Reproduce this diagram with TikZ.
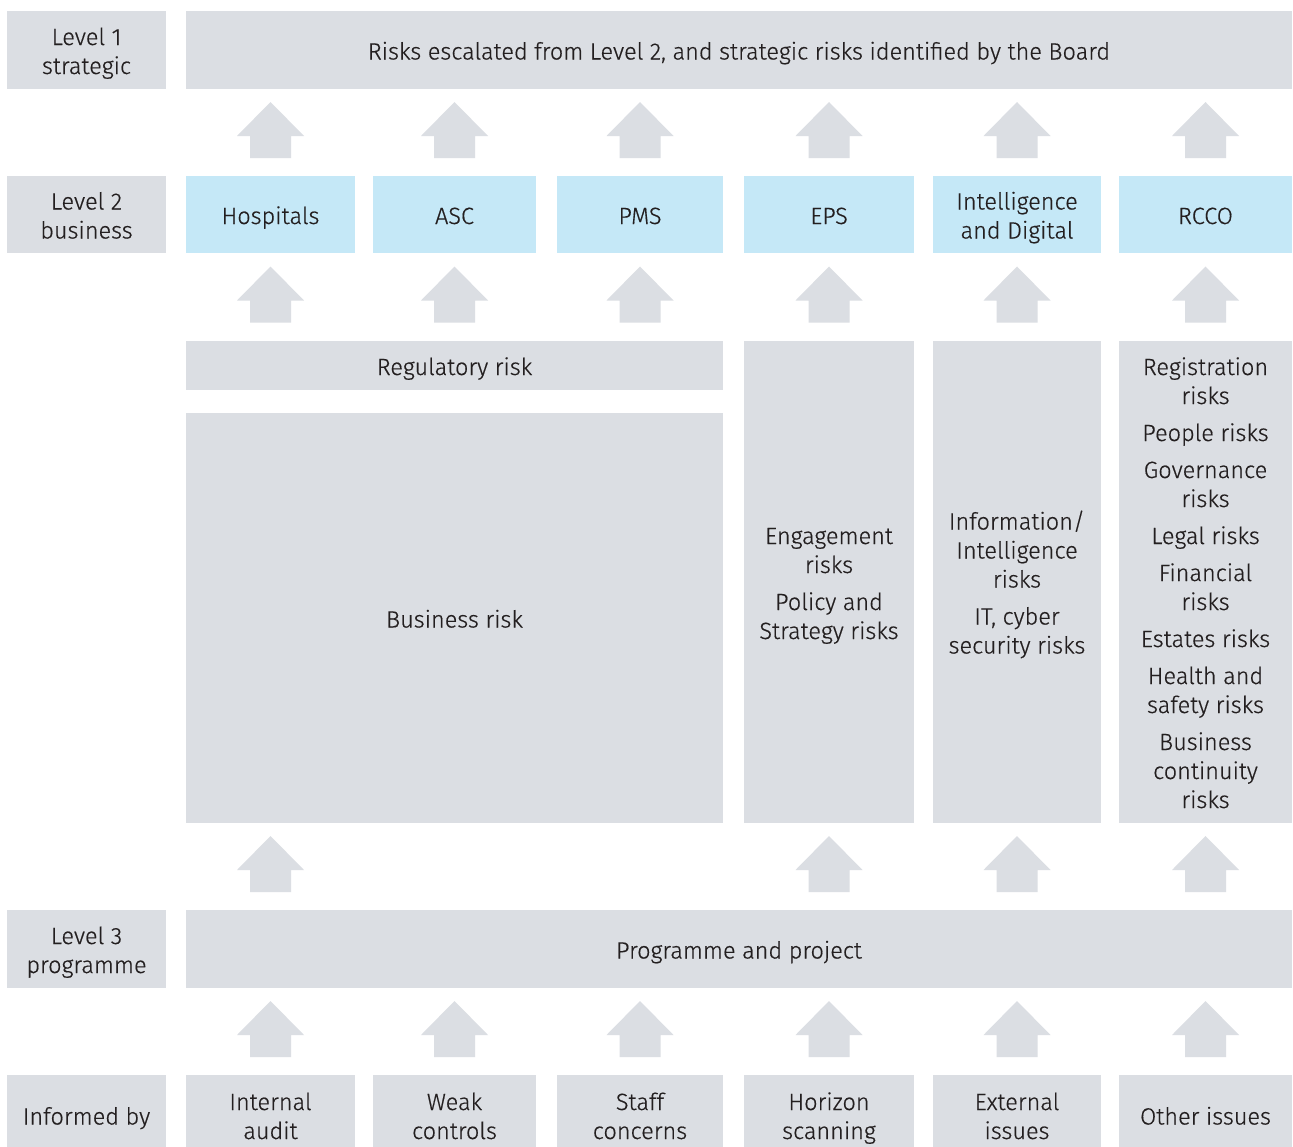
\documentclass[tikz,border=0pt]{standalone}
\usepackage{fontspec}
\setmainfont{Fira Sans}[UprightFont=* Light, UprightFeatures={FakeBold=0.5}]
\usetikzlibrary{calc}
\definecolor{panelgray}{RGB}{219,222,227}
\definecolor{unitblue}{RGB}{197,232,247}
\definecolor{inkdark}{RGB}{35,31,32}

% Fixed height for the first line of a multi-line label
\newcommand\firstline{\rule{0pt}{25pt}}

% Block arrow pointing up, centred on the column of #1, in the gap between #2 (below) and #3 (above)
\newcommand\riseArrow[3]{%
  \fill[panelgray] let \p1=(#1.center), \p2=(#2.north), \p3=(#3.south),
      \n1={(\y2+\y3)/2+2.5pt} in
    (\x1-20.5pt,\n1-28pt) -- (\x1+20.5pt,\n1-28pt) -- (\x1+20.5pt,\n1-6pt)
    -- (\x1+33.5pt,\n1-6pt) -- (\x1,\n1+28pt) -- (\x1-33.5pt,\n1-6pt)
    -- (\x1-20.5pt,\n1-6pt) -- cycle;}

\begin{document}
\begin{tikzpicture}[x=1pt,y=-1pt,
  box/.style={fill=panelgray, draw=none, inner sep=0pt, align=center,
    text=inkdark, font=\fontsize{23.5}{29}\selectfont,
    % fixed height and depth keep baselines even across boxes
    execute at begin node={\rule{0pt}{25pt}},
    execute at end node={\rule[-6pt]{0pt}{6pt}}},
  unit/.style={box, fill=unitblue}]
\clip (0,0) rectangle (1293,1146);
\fill[white] (0,0) rectangle (1293,1146);

% Level 1
\node[box, minimum width=159pt, minimum height=78pt] (l1) at (86.5,50) {\firstline Level 1\\strategic};
\node[box, minimum width=1106pt, minimum height=78pt] (top) at (739,50)
  {Risks escalated from Level 2, and strategic risks identified by the Board};

% Level 2 business units
\node[box, minimum width=159pt, minimum height=77pt] (l2) at (86.5,214.5) {\firstline Level 2\\business};
\node[unit, minimum width=169pt, minimum height=77pt] (hosp) at (270.5,214.5) {Hospitals};
\node[unit, minimum width=163pt, minimum height=77pt] (asc) at (454.5,214.5) {ASC};
\node[unit, minimum width=166pt, minimum height=77pt] (pms) at (640,214.5) {PMS};
\node[unit, minimum width=170pt, minimum height=77pt] (eps) at (829,214.5) {EPS};
\node[unit, minimum width=168pt, minimum height=77pt] (intel) at (1017,214.5) {\firstline Intelligence\\and Digital};
\node[unit, minimum width=173pt, minimum height=77pt] (rcco) at (1205.5,214.5) {RCCO};

% Risk categories
\node[box, minimum width=537pt, minimum height=49pt] (reg) at (454.5,365.5) {Regulatory risk};
\node[box, minimum width=537pt, minimum height=410pt] (bus) at (454.5,618) {Business risk};
\node[box, minimum width=170pt, minimum height=482pt] (epsc) at (829,582)
  {\firstline Engagement\\risks\\[8pt]Policy and\\Strategy risks};
\node[box, minimum width=168pt, minimum height=482pt] (intc) at (1017,582)
  {\firstline Information/\\Intelligence\\risks\\[8pt]IT, cyber\\security risks};
\node[box, minimum width=173pt, minimum height=482pt] (rcc) at (1205.5,582)
  {\firstline Registration\\risks\\[8pt]People risks\\[8pt]Governance\\risks\\[8pt]Legal risks\\[8pt]Financial\\risks\\[8pt]Estates risks\\[8pt]Health and\\safety risks\\[8pt]Business\\continuity\\risks};

% Level 3
\node[box, minimum width=159pt, minimum height=78pt] (l3) at (86.5,949) {\firstline Level 3\\programme};
\node[box, minimum width=1106pt, minimum height=78pt] (prog) at (739,949) {Programme and project};

% Sources
\node[box, minimum width=159pt, minimum height=80pt] (inf) at (86.5,1115) {Informed by};
\node[box, minimum width=169pt, minimum height=80pt] (s1) at (270.5,1115) {\firstline Internal\\audit};
\node[box, minimum width=163pt, minimum height=80pt] (s2) at (454.5,1115) {\firstline Weak\\controls};
\node[box, minimum width=166pt, minimum height=80pt] (s3) at (640,1115) {\firstline Staff\\concerns};
\node[box, minimum width=170pt, minimum height=80pt] (s4) at (829,1115) {\firstline Horizon\\scanning};
\node[box, minimum width=168pt, minimum height=80pt] (s5) at (1017,1115) {\firstline External\\issues};
\node[box, minimum width=173pt, minimum height=80pt] (s6) at (1205.5,1115) {Other issues};

% Arrows: business units -> Level 1
\riseArrow{hosp}{hosp}{top}
\riseArrow{asc}{asc}{top}
\riseArrow{pms}{pms}{top}
\riseArrow{eps}{eps}{top}
\riseArrow{intel}{intel}{top}
\riseArrow{rcco}{rcco}{top}

% Arrows: risk categories -> business units
\riseArrow{hosp}{reg}{hosp}
\riseArrow{asc}{reg}{asc}
\riseArrow{pms}{reg}{pms}
\riseArrow{eps}{epsc}{eps}
\riseArrow{intel}{intc}{intel}
\riseArrow{rcco}{rcc}{rcco}

% Arrows: programme -> risk categories
\riseArrow{hosp}{prog}{bus}
\riseArrow{eps}{prog}{epsc}
\riseArrow{intel}{prog}{intc}
\riseArrow{rcco}{prog}{rcc}

% Arrows: sources -> programme
\riseArrow{s1}{s1}{prog}
\riseArrow{s2}{s2}{prog}
\riseArrow{s3}{s3}{prog}
\riseArrow{s4}{s4}{prog}
\riseArrow{s5}{s5}{prog}
\riseArrow{s6}{s6}{prog}
\end{tikzpicture}
\end{document}
